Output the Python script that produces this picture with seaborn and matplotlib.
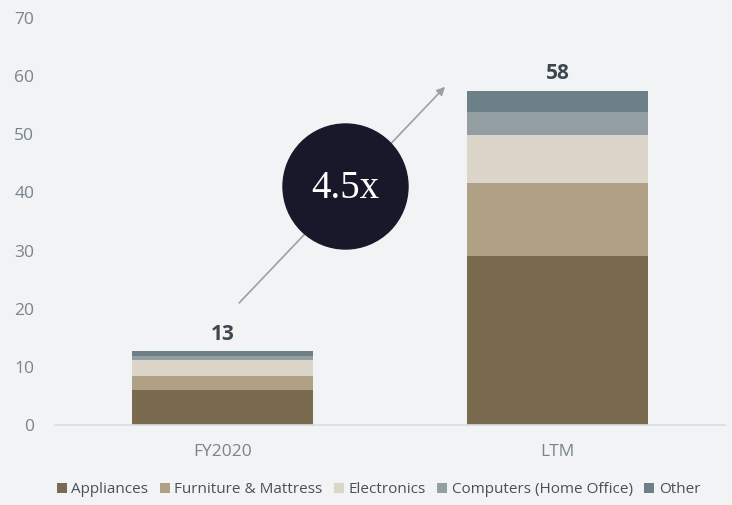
import matplotlib
matplotlib.use("Agg")
import matplotlib.pyplot as plt
import seaborn as sns
import pandas as pd
import numpy as np
from matplotlib.patches import Patch

periods = ["FY2020", "LTM"]
categories = ["Appliances", "Furniture & Mattress", "Electronics",
              "Computers (Home Office)", "Other"]
appliances = [6.0, 29.1]
furniture = [2.5, 12.5]
electronics = [2.6, 8.2]
computers = [0.8, 4.1]
other = [0.8, 3.6]
totals_label = ["13", "58"]
multiple_label = "4.5x"

colors = ["#7a6a50", "#b0a086", "#dcd5ca", "#939ea3", "#6d7f87"]
bg = "#f1f3f5"

sns.set_theme(style="white")
plt.rcParams["font.family"] = ["Open Sans", "DejaVu Sans"]

series = [appliances, furniture, electronics, computers, other]
df = pd.DataFrame({"period": periods})
cum = np.zeros(len(periods))
for name, vals in zip(categories, series):
    cum = cum + np.array(vals)
    df[name] = cum

fig = plt.figure(figsize=(7.32, 5.05), dpi=100, facecolor=bg)
ax = fig.add_axes([55 / 732, 80 / 505, 670 / 732, 407 / 505])
ax.set_facecolor(bg)

# stacked bars: draw cumulative totals from the top layer down
for name, col in reversed(list(zip(categories, colors))):
    sns.barplot(data=df, x="period", y=name, color=col, width=0.54,
                saturation=1, edgecolor="none", ax=ax)

ax.set_xlim(-0.5, 1.5)
ax.set_ylim(0, 70)
ax.set_yticks(range(0, 71, 10))
ax.set_xlabel("")
ax.set_ylabel("")
for s in ["top", "right", "left"]:
    ax.spines[s].set_visible(False)
ax.spines["bottom"].set_color("#d9dde0")
ax.spines["bottom"].set_linewidth(1.2)
ax.tick_params(axis="both", length=0, labelsize=12.5, labelcolor="#7a848c")
ax.tick_params(axis="y", pad=15)
ax.tick_params(axis="x", pad=14)

tops = df[categories[-1]].values
for i, (t, lab) in enumerate(zip(tops, totals_label)):
    ax.text(i, t + 1.1, lab, ha="center", va="bottom", fontsize=15,
            fontweight="bold", color="#3e4750")

# growth arrow and badge
ax.annotate("", xy=(0.585, 0.836), xytext=(0.272, 0.295),
            xycoords="axes fraction", textcoords="axes fraction",
            arrowprops=dict(arrowstyle="-|>", color="#9aa0a6", lw=1.2,
                            mutation_scale=12), zorder=3)
ax.scatter([0.433], [0.587], s=8100, color="#18182a", transform=ax.transAxes,
           zorder=4, clip_on=False)
ax.text(0.433, 0.582, multiple_label, transform=ax.transAxes, ha="center",
        va="center", color="white", fontsize=28, family="Liberation Serif",
        zorder=5)

handles = [Patch(facecolor=c, edgecolor="none") for c in colors]
fig.legend(handles, categories, loc="lower center", bbox_to_anchor=(0.517, -0.012),
           ncol=5, frameon=False, fontsize=11, handlelength=0.65,
           handleheight=0.65, handletextpad=0.3, columnspacing=0.75,
           labelcolor="#4a5058")

fig.savefig("out.png", dpi=100, facecolor=bg)
